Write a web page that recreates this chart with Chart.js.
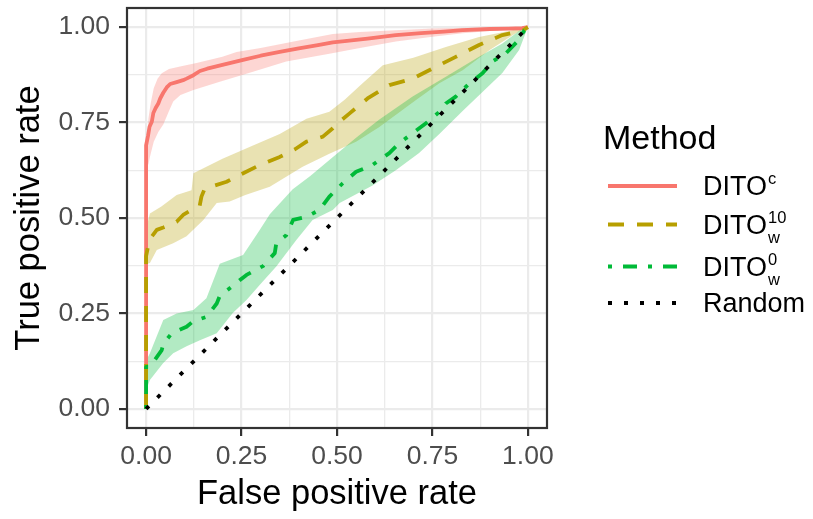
<!DOCTYPE html>
<html><head><meta charset="utf-8">
<script src="https://cdn.jsdelivr.net/npm/chart.js@4.4.1/dist/chart.umd.min.js"></script>
<style>
html,body{margin:0;padding:0;background:#fff;}
#wrap{position:relative;width:813px;height:519px;overflow:hidden;font-family:'Liberation Sans',Arial,sans-serif;}
#c{position:absolute;left:0;top:0;}
#leg{position:absolute;left:0;top:0;}
.t{position:absolute;line-height:1;white-space:nowrap;color:#000;}
</style></head><body>
<div id="wrap"><canvas id="c" width="813" height="519"></canvas>
<svg id="leg" width="813" height="519"></svg></div>
<script>
// ---- axis ticks ----
const majorTicks = [0, 0.25, 0.5, 0.75, 1];
const majorTickLabels = ['0.00', '0.25', '0.50', '0.75', '1.00'];
const minorTicks = [0.125, 0.375, 0.625, 0.875];

// ---- legend ----
const legendTitle = 'Method';
const methodBase = ['DITO', 'DITO', 'DITO', 'Random'];
const methodSup = ['c', '10', '0', ''];
const methodSub = ['', 'w', 'w', ''];

// ---- DITO^c ----
const ditoC_fpr = [0, 0, 0.005, 0.009, 0.015, 0.019, 0.025, 0.032, 0.037, 0.045, 0.054, 0.063, 0.08, 0.097, 0.106, 0.124, 0.141, 0.16, 0.2, 0.254, 0.3, 0.35, 0.4, 0.45, 0.489, 0.52, 0.58, 0.654, 0.72, 0.78, 0.829, 0.9, 0.95, 0.985, 1];
const ditoC_tpr = [0, 0.69, 0.715, 0.739, 0.752, 0.775, 0.788, 0.80, 0.813, 0.828, 0.842, 0.851, 0.856, 0.861, 0.865, 0.874, 0.885, 0.891, 0.901, 0.914, 0.925, 0.935, 0.944, 0.953, 0.96, 0.963, 0.97, 0.979, 0.984, 0.988, 0.992, 0.995, 0.996, 0.997, 1];
const ditoC_hiX = [0, 0.003, 0.006, 0.012, 0.02, 0.03, 0.041, 0.06, 0.089, 0.132, 0.2, 0.237, 0.3, 0.4, 0.489, 0.56, 0.654, 0.75, 0.85, 1];
const ditoC_hiY = [0.64, 0.70, 0.76, 0.80, 0.84, 0.865, 0.879, 0.89, 0.897, 0.906, 0.922, 0.935, 0.945, 0.965, 0.982, 0.987, 0.992, 0.996, 0.998, 1];
const ditoC_loX = [0.006, 0.01, 0.02, 0.032, 0.045, 0.06, 0.071, 0.09, 0.124, 0.193, 0.28, 0.367, 0.48, 0.56, 0.654, 0.75, 0.829, 0.9, 0.985, 1];
const ditoC_loY = [0.64, 0.66, 0.70, 0.725, 0.745, 0.78, 0.805, 0.822, 0.835, 0.857, 0.883, 0.91, 0.93, 0.945, 0.962, 0.975, 0.984, 0.99, 0.996, 1];

// ---- DITO_w^10 ----
const ditoW10_fpr = [0, 0, 0.006, 0.01, 0.028, 0.045, 0.063, 0.08, 0.097, 0.119, 0.14, 0.145, 0.154, 0.18, 0.211, 0.25, 0.298, 0.35, 0.39, 0.42, 0.463, 0.489, 0.51, 0.533, 0.58, 0.637, 0.698, 0.759, 0.811, 0.872, 0.933, 0.985, 1];
const ditoW10_tpr = [0, 0.40, 0.43, 0.445, 0.469, 0.475, 0.482, 0.49, 0.508, 0.521, 0.53, 0.556, 0.578, 0.585, 0.595, 0.615, 0.639, 0.66, 0.68, 0.70, 0.713, 0.735, 0.755, 0.774, 0.813, 0.848, 0.865, 0.896, 0.922, 0.953, 0.979, 0.99, 1];
const ditoW10_hiX = [0, 0.002, 0.01, 0.04, 0.08, 0.119, 0.124, 0.141, 0.2, 0.28, 0.35, 0.42, 0.48, 0.52, 0.567, 0.62, 0.7, 0.785, 0.872, 0.95, 1];
const ditoW10_hiY = [0.40, 0.48, 0.512, 0.53, 0.56, 0.573, 0.617, 0.626, 0.655, 0.69, 0.72, 0.76, 0.778, 0.81, 0.853, 0.9, 0.92, 0.948, 0.974, 0.99, 1];
const ditoW10_loX = [0.004, 0.01, 0.028, 0.071, 0.106, 0.15, 0.185, 0.219, 0.26, 0.324, 0.41, 0.48, 0.55, 0.61, 0.707, 0.768, 0.829, 0.9, 0.968, 1];
const ditoW10_loY = [0.38, 0.382, 0.416, 0.434, 0.452, 0.495, 0.539, 0.543, 0.56, 0.582, 0.634, 0.668, 0.70, 0.738, 0.809, 0.853, 0.887, 0.94, 0.984, 1];

// ---- DITO_w^0 ----
const ditoW0_fpr = [0, 0, 0.01, 0.041, 0.045, 0.067, 0.106, 0.124, 0.158, 0.185, 0.193, 0.224, 0.263, 0.306, 0.337, 0.341, 0.367, 0.385, 0.42, 0.454, 0.48, 0.515, 0.55, 0.593, 0.637, 0.663, 0.698, 0.733, 0.768, 0.785, 0.811, 0.846, 0.881, 0.907, 0.942, 0.972, 0.99, 1];
const ditoW0_tpr = [0, 0.11, 0.11, 0.154, 0.17, 0.198, 0.215, 0.23, 0.241, 0.276, 0.296, 0.32, 0.351, 0.374, 0.408, 0.434, 0.455, 0.495, 0.503, 0.521, 0.556, 0.591, 0.621, 0.639, 0.67, 0.696, 0.722, 0.748, 0.778, 0.8, 0.818, 0.852, 0.879, 0.91, 0.931, 0.962, 0.99, 1];
const ditoW0_hiX = [0, 0.002, 0.01, 0.045, 0.08, 0.124, 0.158, 0.193, 0.254, 0.298, 0.324, 0.384, 0.43, 0.48, 0.55, 0.61, 0.698, 0.785, 0.872, 0.933, 0.985, 1];
const ditoW0_hiY = [0.08, 0.13, 0.146, 0.233, 0.25, 0.259, 0.29, 0.38, 0.403, 0.469, 0.51, 0.575, 0.61, 0.652, 0.71, 0.757, 0.818, 0.87, 0.922, 0.957, 0.996, 1];
const ditoW0_loX = [0.004, 0.01, 0.045, 0.071, 0.106, 0.141, 0.185, 0.227, 0.263, 0.298, 0.341, 0.393, 0.436, 0.489, 0.507, 0.593, 0.654, 0.715, 0.768, 0.829, 0.881, 0.933, 0.977, 1];
const ditoW0_loY = [0.06, 0.076, 0.12, 0.146, 0.164, 0.18, 0.198, 0.251, 0.285, 0.325, 0.373, 0.442, 0.495, 0.521, 0.539, 0.585, 0.625, 0.67, 0.72, 0.78, 0.83, 0.88, 0.94, 1];

// ---- Random ----
const random_fpr = [0, 1];
const random_tpr = [0, 1];

// ---- styles ----
const FONT = "'Liberation Sans', Arial, sans-serif";
const colRed = '#F8766D', colOlive = '#B79F00', colGreen = '#00BA38', colBlack = '#000000';
const LW = 3.8;
const dashOlive = [16, 13], dashGreen = [4, 11, 14, 11], dashBlack = [4, 12];

const pts = (xs, ys) => xs.map((x, i) => ({x: x, y: ys[i]}));
const band = (hx, hy, lx, ly) => pts(hx, hy).concat(pts(lx, ly).reverse());
const isMajor = v => majorTicks.some(m => Math.abs(m - v) < 1e-9);
const gridValues = majorTicks.concat(minorTicks).sort((a, b) => a - b);

function ribbon(data, color, order) {
  return {data: data, fill: 'shape', backgroundColor: color, borderColor: 'rgba(0,0,0,0)', borderWidth: 0,
          pointRadius: 0, pointHoverRadius: 0, order: order};
}
function line(data, color, dash, order) {
  return {data: data, fill: false, borderColor: color, borderWidth: LW, borderDash: dash, borderCapStyle: 'butt',
          borderJoinStyle: 'round', pointRadius: 0, pointHoverRadius: 0, order: order};
}

const panelBorder = {
  id: 'panelBorder',
  afterDraw(chart) {
    const {ctx, chartArea: a} = chart;
    ctx.save();
    ctx.strokeStyle = '#333333';
    ctx.lineWidth = 2.2;
    ctx.strokeRect(a.left, a.top, a.right - a.left, a.bottom - a.top);
    ctx.restore();
  }
};

function axisCfg(isX) {
  return {
    type: 'linear', min: -0.05, max: 1.05,
    afterBuildTicks: ax => { ax.ticks = gridValues.map(v => ({value: v})); },
    afterFit: ax => {
      if (isX) { ax.height = 91; ax.paddingLeft = 0; ax.paddingRight = 0; }
      else { ax.width = 127; ax.paddingTop = 0; ax.paddingBottom = 0; }
    },
    ticks: {
      autoSkip: false, maxRotation: 0, minRotation: 0, padding: isX ? 5 : 9,
      color: '#4D4D4D', font: {family: FONT, size: 26.5},
      callback: v => { const i = majorTicks.findIndex(m => Math.abs(m - v) < 1e-9); return i >= 0 ? majorTickLabels[i] : ''; }
    },
    grid: {
      color: '#EBEBEB',
      lineWidth: c => (c.tick && isMajor(c.tick.value)) ? 2.2 : 1.3,
      drawTicks: true, tickLength: 8, tickWidth: 2.2,
      tickColor: c => (c.tick && isMajor(c.tick.value)) ? '#333333' : 'rgba(0,0,0,0)'
    },
    border: {display: false},
    title: {
      display: true, text: isX ? 'False positive rate' : 'True positive rate', color: '#000000',
      font: {family: FONT, size: 34.5},
      padding: isX ? {top: 0, bottom: 4} : {top: 9, bottom: 0}
    }
  };
}

new Chart(document.getElementById('c'), {
  type: 'line',
  data: {
    datasets: [
      ribbon(band(ditoC_hiX, ditoC_hiY, ditoC_loX, ditoC_loY), 'rgba(248,118,109,0.3)', 6),
      ribbon(band(ditoW10_hiX, ditoW10_hiY, ditoW10_loX, ditoW10_loY), 'rgba(183,159,0,0.3)', 5),
      ribbon(band(ditoW0_hiX, ditoW0_hiY, ditoW0_loX, ditoW0_loY), 'rgba(0,186,56,0.3)', 4),
      line(pts(ditoC_fpr, ditoC_tpr), colRed, [], 3),
      line(pts(ditoW10_fpr, ditoW10_tpr), colOlive, dashOlive, 2),
      line(pts(ditoW0_fpr, ditoW0_tpr), colGreen, dashGreen, 1),
      line(pts(random_fpr, random_tpr), colBlack, dashBlack, 0)
    ]
  },
  options: {
    responsive: false, animation: false, devicePixelRatio: 1,
    layout: {padding: {top: 8, right: 266, left: 0, bottom: 0}},
    plugins: {legend: {display: false}, tooltip: {enabled: false}},
    events: [],
    scales: {x: axisCfg(true), y: axisCfg(false)}
  },
  plugins: [panelBorder]
});

// ---- legend (HTML text + SVG keys) ----
const wrap = document.getElementById('wrap');
const svg = document.getElementById('leg');
const NS = 'http://www.w3.org/2000/svg';
function addText(str, x, baseline, size) {
  const s = document.createElement('span');
  s.className = 't';
  s.textContent = str;
  s.style.fontSize = size + 'px';
  s.style.left = x + 'px';
  s.style.top = (baseline - 0.8467 * size) + 'px';
  wrap.appendChild(s);
  return s;
}
addText(legendTitle, 603, 148.3, 34);
const keyY = [186, 224.5, 266.5, 303];
const keyColors = [colRed, colOlive, colGreen, colBlack];
const keyDash = [[], dashOlive, dashGreen, dashBlack];
methodBase.forEach((name, i) => {
  const l = document.createElementNS(NS, 'line');
  l.setAttribute('x1', 608); l.setAttribute('x2', 677);
  l.setAttribute('y1', keyY[i]); l.setAttribute('y2', keyY[i]);
  l.setAttribute('stroke', keyColors[i]); l.setAttribute('stroke-width', 4);
  if (keyDash[i].length) l.setAttribute('stroke-dasharray', keyDash[i].join(' '));
  svg.appendChild(l);
  const base = keyY[i] + 10;
  const s = addText(name, 703, base, 27);
  const w = s.getBoundingClientRect().width;
  if (methodSup[i]) addText(methodSup[i], 703 + w + 1, base - 12, 16.5);
  if (methodSub[i]) addText(methodSub[i], 703 + w + 1, base + 8.5, 16.5);
});
</script>
</body></html>
